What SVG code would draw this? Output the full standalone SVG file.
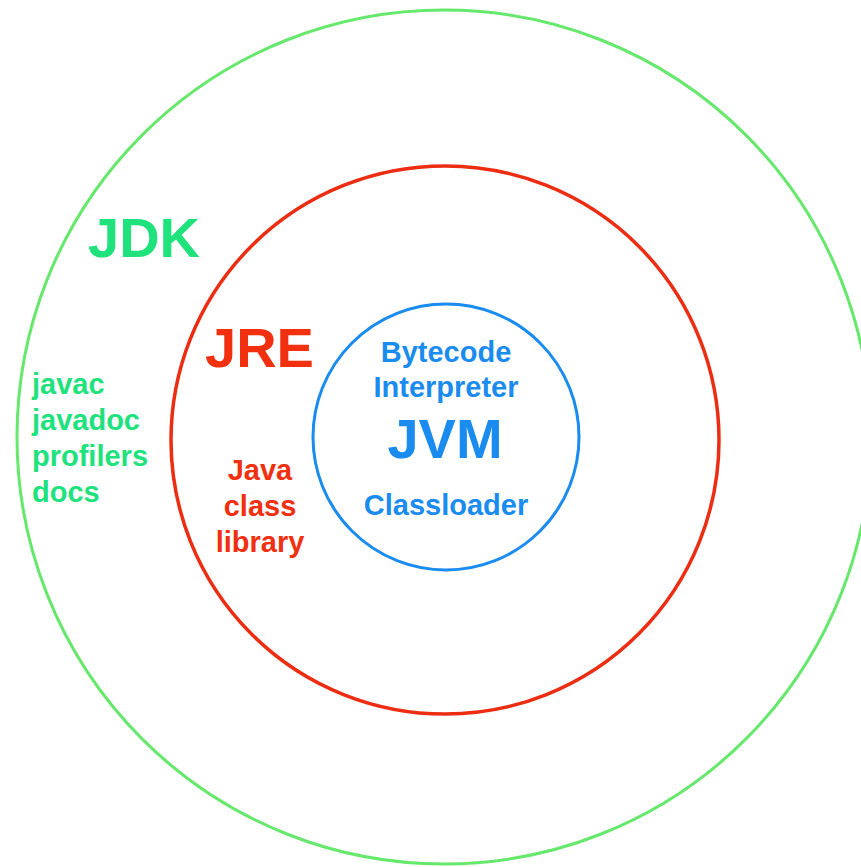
<svg xmlns="http://www.w3.org/2000/svg" width="861" height="867" viewBox="0 0 861 867">
<style>
  text { font-family: "Liberation Sans", Arial, sans-serif; font-weight: bold; }
  .ring { fill: none; }
  .jdk { fill: #20E27C; }
  .jre { fill: #F0300F; }
  .jvm { fill: #1A8CF0; }
  .small { font-size: 29px; }
  .big { font-size: 56px; }
</style>
<rect width="861" height="867" fill="#ffffff"/>
<g id="jdk">
  <circle class="ring" cx="444" cy="437" r="427" stroke="#66E86C" stroke-width="3"/>
  <text class="jdk big" x="88" y="257">JDK</text>
  <text class="jdk small" x="32" y="394">javac</text>
  <text class="jdk small" x="32" y="430">javadoc</text>
  <text class="jdk small" x="32" y="466">profilers</text>
  <text class="jdk small" x="32" y="502">docs</text>
</g>
<g id="jre">
  <circle class="ring" cx="445" cy="440" r="274" stroke="#EC2D12" stroke-width="3.5"/>
  <text class="jre big" x="205" y="367">JRE</text>
  <text class="jre small" x="260" y="480" text-anchor="middle">Java</text>
  <text class="jre small" x="260" y="516" text-anchor="middle">class</text>
  <text class="jre small" x="260" y="552" text-anchor="middle">library</text>
</g>
<g id="jvm">
  <circle class="ring" cx="446" cy="437" r="133" stroke="#1A8CF0" stroke-width="3"/>
  <text class="jvm small" x="446" y="362" text-anchor="middle">Bytecode</text>
  <text class="jvm small" x="446" y="397" text-anchor="middle">Interpreter</text>
  <text class="jvm big" x="445" y="458" text-anchor="middle">JVM</text>
  <text class="jvm small" x="446" y="515" text-anchor="middle">Classloader</text>
</g>
<g id="connectors"></g>
</svg>
